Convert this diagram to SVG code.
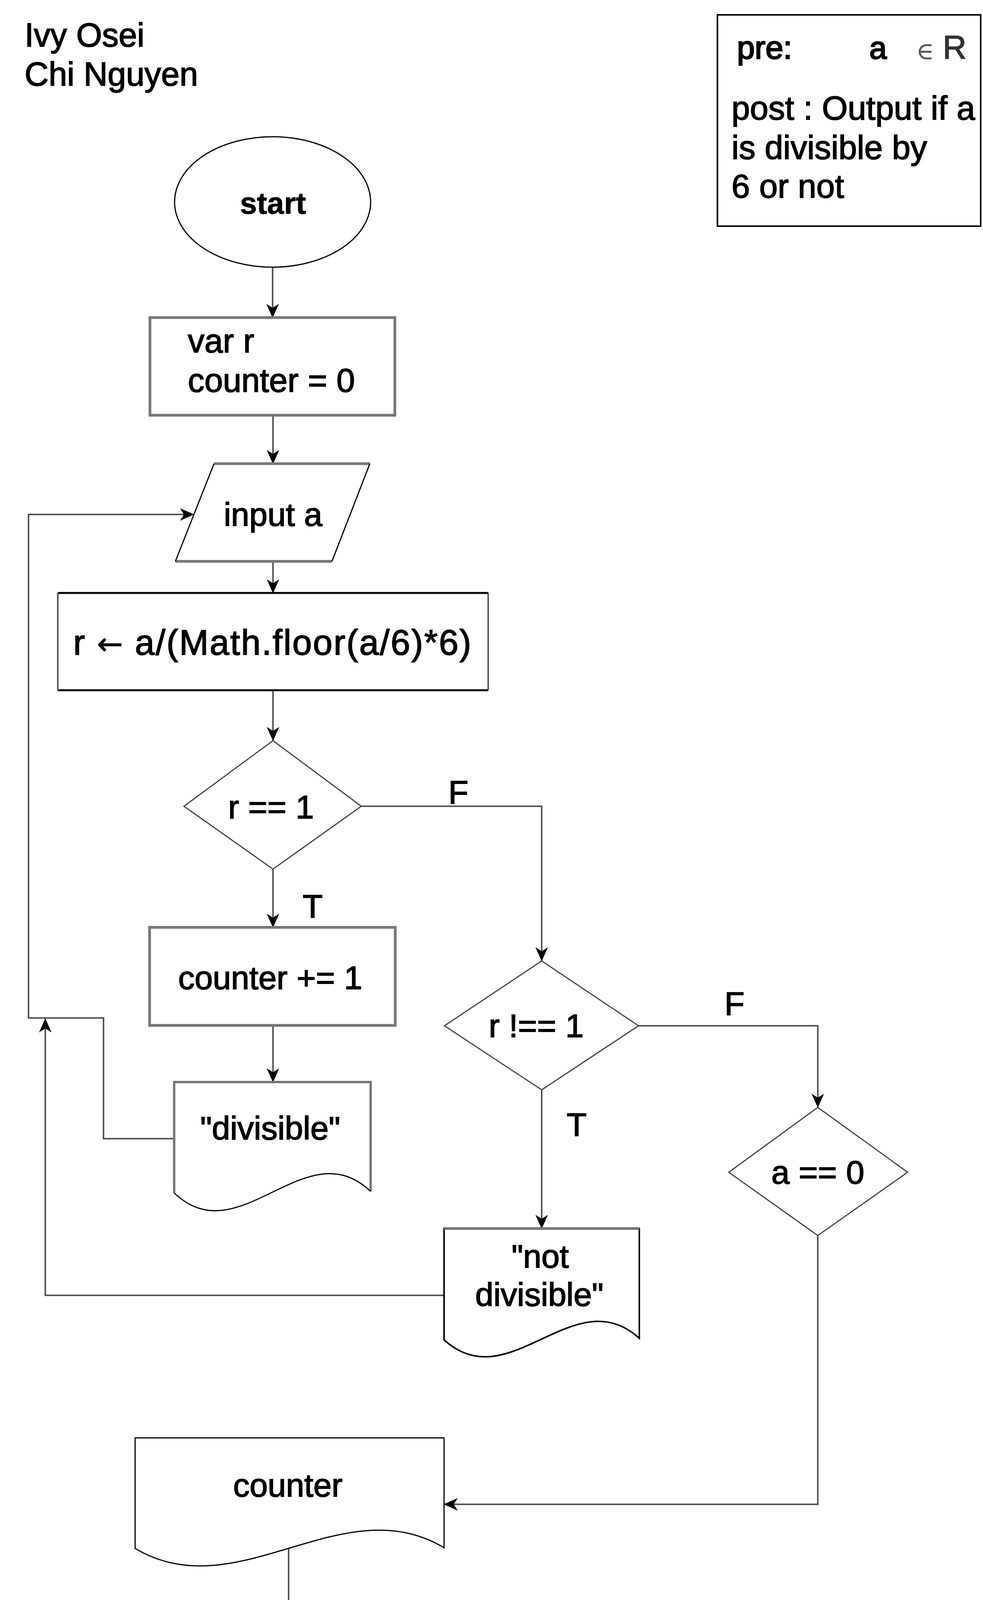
<svg xmlns="http://www.w3.org/2000/svg" width="2517" height="4525" viewBox="0 0 2517 4525">
<style>
text{font-family:"Liberation Sans",Arial,sans-serif;fill:#000;stroke:#000;stroke-width:2;}
.t{font-size:85px;}
.m{font-size:84px;text-anchor:middle;}
.b{font-size:78px;font-weight:bold;text-anchor:middle;stroke-width:1;}
.lbl{font-size:84px;}
.ell{fill:#fff;stroke:#000;stroke-width:3;}
.box{fill:#fff;stroke:#777;stroke-width:7;}
.dia{fill:#fff;stroke:#444;stroke-width:3;}
.edge{fill:none;stroke:#555;stroke-width:4;}
.thin{fill:none;stroke:#000;stroke-width:3;}
.gthick{fill:none;stroke:#777;stroke-width:7;}
.bthick{fill:none;stroke:#000;stroke-width:5;}
</style>
<defs>
<marker id="arr" markerUnits="userSpaceOnUse" markerWidth="36" markerHeight="36" viewBox="0 0 36 36" refX="35" refY="18" orient="auto">
<path d="M0,2 L36,18 L0,34 L10,18 Z" fill="#000"/>
</marker>
</defs>
<rect width="2517" height="4525" fill="#fff"/>

<g id="authors">
<text class="t" x="63" y="119">Ivy Osei</text>
<text class="t" x="63" y="219">Chi Nguyen</text>
</g>

<g id="conditions">
<rect x="1837" y="38" width="674" height="541" fill="#fff" stroke="#000" stroke-width="4"/>
<text x="1887" y="150" style="font-size:82px;stroke-width:3">pre:</text>
<text x="2226" y="150" style="font-size:80px;stroke-width:3">a</text>
<text x="2346" y="152" style="font-size:62px;font-family:'DejaVu Serif',serif;fill:#555;stroke:none">∈</text>
<text x="2414" y="150" style="font-size:84px;fill:#333;stroke:#333">R</text>
<text class="t" x="1873" y="306">post : Output if a</text>
<text class="t" x="1873" y="407">is divisible by</text>
<text class="t" x="1873" y="506">6 or not</text>
</g>

<g id="connectors">
<path class="edge" d="M698,684 V813" marker-end="url(#arr)"/>
<path class="edge" d="M699,1063 V1187" marker-end="url(#arr)"/>
<path class="edge" d="M699,1437 V1518" marker-end="url(#arr)"/>
<path class="edge" d="M699,1767 V1896" marker-end="url(#arr)"/>
<path class="edge" d="M699,2225 V2374" marker-end="url(#arr)"/>
<path class="edge" d="M925,2064 H1387 V2460" marker-end="url(#arr)"/>
<path class="edge" d="M699,2625 V2770" marker-end="url(#arr)"/>
<path class="edge" d="M446,2915 H265 V2606 H73 V1317 H496" marker-end="url(#arr)"/>
<path class="edge" d="M1387,2790 V3145" marker-end="url(#arr)"/>
<path class="edge" d="M1635,2626 H2094 V2835" marker-end="url(#arr)"/>
<path class="edge" d="M1137,3316 H116 V2608" marker-end="url(#arr)"/>
<path class="edge" d="M2094,3163 V3851 H1137" marker-end="url(#arr)"/>
<path class="edge" d="M739,3964 V4142" marker-end="url(#arr)"/>
<text class="lbl" x="775" y="2349">T</text>
<text class="lbl" x="1148" y="2057">F</text>
<text class="lbl" x="1855" y="2598">F</text>
<text class="lbl" x="1451" y="2908">T</text>
</g>

<g id="start">
<ellipse class="ell" cx="698" cy="517" rx="251" ry="167"/>
<text class="b" x="699" y="547">start</text>
</g>

<g id="init">
<rect class="box" x="384" y="813" width="627" height="250"/>
<text class="t" x="481" y="902">var r</text>
<text class="t" x="481" y="1003">counter = 0</text>
</g>

<g id="input">
<polygon points="548,1187 947,1187 850,1437 449,1437" fill="#fff"/>
<path class="gthick" d="M548,1187 H947 M449,1437 H850"/>
<path class="thin" d="M548,1187 L449,1437 M947,1187 L850,1437"/>
<text class="m" x="699" y="1346">input a</text>
</g>

<g id="compute">
<rect x="148" y="1518" width="1102" height="250" fill="#fff"/>
<path class="bthick" d="M148,1518 H1250 M148,1767 H1250"/>
<path class="edge" d="M148,1518 V1767 M1250,1518 V1767"/>
<text x="697" y="1676" style="font-size:90px;text-anchor:middle" textLength="1019" lengthAdjust="spacing">r <tspan style="font-family:'DejaVu Sans',sans-serif;font-size:80px;stroke-width:1">←</tspan> a/(Math.floor(a/6)*6)</text>
</g>

<g id="check1">
<polygon class="dia" points="699,1896 925,2064 699,2225 471,2064"/>
<text class="m" x="694" y="2095">r == 1</text>
</g>

<g id="increment">
<rect class="box" x="383" y="2374" width="629" height="251"/>
<text class="m" x="692" y="2532">counter += 1</text>
</g>

<g id="out-divisible">
<path d="M446,3054 V2770 H949 V3050 C781,2891 614,3213 446,3054 Z" fill="#fff" stroke="none"/>
<path d="M446,3054 V2770 H949 V3050" fill="none" stroke="#777" stroke-width="6"/>
<path class="thin" d="M446,3054 C614,3213 781,2891 949,3050"/>
<text class="m" x="692" y="2917">"divisible"</text>
</g>

<g id="check2">
<polygon class="dia" points="1387,2460 1635,2626 1387,2790 1138,2626"/>
<text class="m" x="1373" y="2655">r !== 1</text>
</g>

<g id="check3">
<polygon class="dia" points="2094,2835 2324,3001 2094,3163 1866,3001"/>
<text class="m" x="2094" y="3030">a == 0</text>
</g>

<g id="out-not-divisible">
<path d="M1137,3430 V3145 H1637 V3426 C1470,3274 1304,3582 1137,3430 Z" fill="#fff" stroke="#000" stroke-width="4"/>
<path class="gthick" d="M1137,3145 H1637"/>
<text class="m" x="1383" y="3245">"not</text>
<text class="m" x="1381" y="3343">divisible"</text>
</g>

<g id="out-counter">
<path class="thin" d="M346,3964 V3681 H1137 V3962 C873,3806 610,4120 346,3964 Z" fill="#fff"/>
<text class="m" x="737" y="3831">counter</text>
</g>

<g id="end">
<ellipse class="ell" cx="741" cy="4309" rx="250" ry="167"/>
<text class="b" x="739" y="4339">end</text>
</g>
</svg>
